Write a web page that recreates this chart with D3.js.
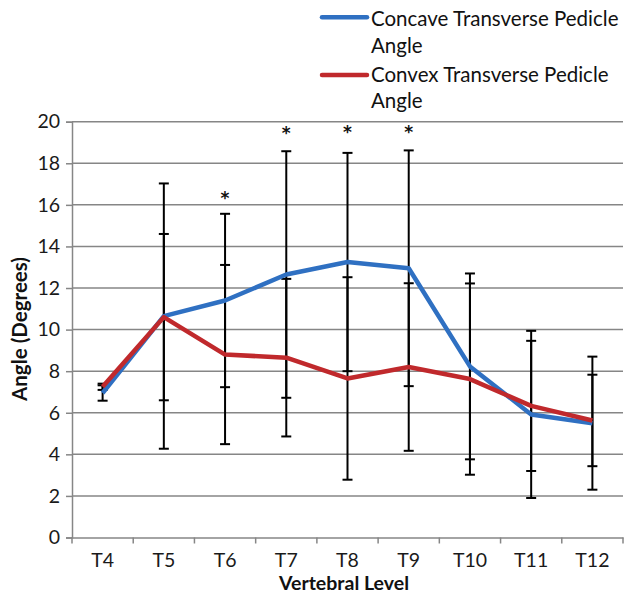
<!DOCTYPE html>
<html><head><meta charset="utf-8">
<script src="https://cdn.jsdelivr.net/npm/d3@7"></script>
<style>
html,body{margin:0;padding:0;background:#fff;}
svg{display:block;font-family:Lato,"Open Sans",sans-serif;}
</style></head>
<body><svg id="c" width="624" height="593"></svg>
<script>
const levels = ["T4","T5","T6","T7","T8","T9","T10","T11","T12"];
const concaveMean = [6.95,10.65,11.4,12.65,13.25,12.95,8.23,5.92,5.5];
const concaveSD   = [0.37,6.38,4.17,5.93,5.25,5.67,4.47,4.02,3.2];
const convexMean  = [7.25,10.6,8.8,8.65,7.65,8.2,7.62,6.33,5.63];
const convexSD    = [0.15,4.0,4.31,3.79,4.87,4.03,4.6,3.13,2.2];
const sigLevels   = ["T6","T7","T8","T9"];
const sigY        = [16.45,19.55,19.6,19.6];
const yTicks      = [0,2,4,6,8,10,12,14,16,18,20];
const seriesNames = ["Concave Transverse Pedicle Angle","Convex Transverse Pedicle Angle"];
const seriesColors= ["#2f70c2","#c0292c"];

const svg = d3.select("#c");
const L = 72, R = 623, T = 121.7, B = 537.5;
const x = d3.scaleBand().domain(levels).range([L, R]);
const y = d3.scaleLinear().domain([0,20]).range([B, T]);
const cx = d => x(d) + x.bandwidth()/2;
const FONT = "Lato";

// gridlines
svg.append("g").selectAll("line").data(yTicks.filter(v=>v>0)).join("line")
  .attr("x1", L).attr("x2", R).attr("y1", d=>y(d)).attr("y2", d=>y(d))
  .attr("stroke", "#868686").attr("stroke-width", 1.5);

// y axis
const ya = svg.append("g").attr("transform", `translate(${L},0)`)
  .call(d3.axisLeft(y).tickValues(yTicks).tickSize(6).tickPadding(6));
ya.select(".domain").attr("stroke","#868686").attr("stroke-width",1.5);
ya.selectAll(".tick line").attr("stroke","#868686").attr("stroke-width",1.5);
ya.selectAll("text").attr("font-size","19.5px").attr("fill","#1a1a1a").attr("font-family",FONT);

// x axis
const xa = svg.append("g").attr("transform", `translate(0,${B})`)
  .call(d3.axisBottom(x).tickSize(0).tickPadding(15.7));
xa.select(".domain").attr("stroke","#868686").attr("stroke-width",1.5);
xa.selectAll("text").attr("font-size","19.5px").attr("fill","#1a1a1a").attr("font-family",FONT);
svg.append("g").selectAll("line").data(levels.concat(["end"])).join("line")
  .attr("x1", (d,i)=>L + i*x.bandwidth()).attr("x2",(d,i)=>L + i*x.bandwidth())
  .attr("y1", B).attr("y2", B+6).attr("stroke","#868686").attr("stroke-width",1.5);

// error bars
const series = [concaveMean, convexMean];
const sds = [concaveSD, convexSD];
series.forEach((m, si) => {
  const g = svg.append("g").attr("stroke","#000").attr("stroke-width",2);
  levels.forEach((lv, i) => {
    const hi = y(m[i] + sds[si][i]), lo = y(m[i] - sds[si][i]);
    g.append("line").attr("x1",cx(lv)).attr("x2",cx(lv)).attr("y1",hi).attr("y2",lo);
    g.append("line").attr("x1",cx(lv)-5).attr("x2",cx(lv)+5).attr("y1",hi).attr("y2",hi);
    g.append("line").attr("x1",cx(lv)-5).attr("x2",cx(lv)+5).attr("y1",lo).attr("y2",lo);
  });
});

// lines
const line = d3.line().x((d,i)=>cx(levels[i])).y(d=>y(d));
series.forEach((m, si) => {
  svg.append("path").datum(m).attr("d", line).attr("fill","none")
    .attr("stroke", seriesColors[si]).attr("stroke-width",4.5)
    .attr("stroke-linejoin","round");
});

// asterisks
svg.append("g").selectAll("text").data(sigLevels).join("text")
  .attr("x", d=>cx(d)).attr("y", (d,i)=>y(sigY[i])+8)
  .attr("text-anchor","middle").attr("font-size","17px").attr("font-weight","bold")
  .attr("font-family","DejaVu Sans").attr("fill","#111").text("*");

// axis titles
svg.append("text").attr("transform","translate(27,329) rotate(-90)")
  .attr("text-anchor","middle").attr("font-size","20.5px").attr("font-weight","bold")
  .attr("font-family",FONT).attr("fill","#111").text("Angle (Degrees)");
svg.append("text").attr("x",344).attr("y",590)
  .attr("text-anchor","middle").attr("font-size","19.5px").attr("font-weight","bold")
  .attr("font-family",FONT).attr("fill","#111").text("Vertebral Level");

// legend
const lg = svg.append("g");
const legY = [17.3, 75];
const legBase = [26, 81.7];
seriesNames.forEach((nm, i) => {
  lg.append("line").attr("x1",322).attr("x2",367).attr("y1",legY[i]).attr("y2",legY[i])
    .attr("stroke", seriesColors[i]).attr("stroke-width",4.5).attr("stroke-linecap","round");
  const words = nm.split(" ");
  const t = lg.append("text").attr("x",371).attr("y",legBase[i])
    .attr("font-size","20.5px").attr("font-family",FONT).attr("fill","#111");
  t.append("tspan").attr("x",371).text(words.slice(0,3).join(" "));
  t.append("tspan").attr("x",371).attr("dy",26.7).text(words.slice(3).join(" "));
});
</script></body></html>
